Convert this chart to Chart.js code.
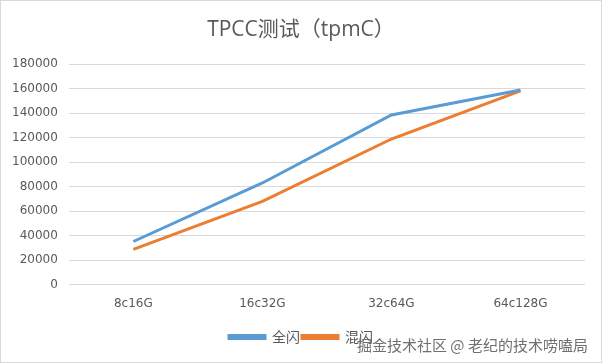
<!DOCTYPE html>
<html><head><meta charset="utf-8">
<script src="https://cdn.jsdelivr.net/npm/chart.js@4"></script>
<style>
html,body{margin:0;padding:0;background:#fff;}
#wrap{position:relative;width:600px;height:361px;border:1px solid #d9d9d9;}
#wm{position:absolute;left:356px;top:333px;font:15px "Noto Sans CJK SC";color:#707070;white-space:nowrap;}
</style></head>
<body>
<div id="wrap"><canvas id="c" width="600" height="361"></canvas><div id="wm">掘金技术社区 @ 老纪的技术唠嗑局</div></div>
<script>
const categories = ["8c16G","16c32G","32c64G","64c128G"];
const seriesNames = ["全闪","混闪"];
const allFlash = [35200, 83000, 138500, 159000];
const hybridFlash = [28700, 68000, 118900, 158200];
const yTicks = [0,20000,40000,60000,80000,100000,120000,140000,160000,180000];

const shiftBoxes = {
  id: 'shiftBoxes',
  beforeDraw(chart) {
    [chart.legend, chart.titleBlock].forEach(b => {
      if (b && !b._shifted) { b.left += 8; b.right += 8; b._shifted = true; }
    });
  }
};

new Chart(document.getElementById('c'), {
  type: 'line',
  data: {
    labels: categories,
    datasets: [
      {label: seriesNames[0], data: allFlash, borderColor: '#5b9bd5', backgroundColor: '#5b9bd5', borderWidth: 3, pointRadius: 0, tension: 0},
      {label: seriesNames[1], data: hybridFlash, borderColor: '#ed7d31', backgroundColor: '#ed7d31', borderWidth: 3, pointRadius: 0, tension: 0}
    ]
  },
  plugins: [shiftBoxes],
  options: {
    responsive: false,
    animation: false,
    layout: {padding: {left: 0, right: 16, top: 8, bottom: 8}},
    plugins: {
      title: {display: true, text: 'TPCC测试（tpmC）', color: '#595959', font: {size: 21, family: '"Open Sans", "Noto Sans CJK SC"', weight: 'normal'}, padding: {top: 8, bottom: 22}},
      legend: {position: 'bottom', labels: {boxWidth: 36, boxHeight: 3, color: '#595959', font: {size: 14, family: '"Noto Sans CJK SC"'}, padding: 2}},
      tooltip: {enabled: false}
    },
    scales: {
      x: {
        offset: true,
        afterFit: (s) => { s.height += 13; },
        grid: {display: false},
        border: {display: false},
        ticks: {color: '#595959', font: {size: 12, family: '"DejaVu Sans"'}, padding: 4, maxRotation: 0}
      },
      y: {
        min: 0, max: 180000,
        afterBuildTicks: (s) => { s.ticks = yTicks.map(v => ({value: v})); },
        grid: {color: '#d9d9d9', drawTicks: false},
        border: {display: false},
        ticks: {color: '#595959', font: {size: 12, family: '"DejaVu Sans"'}, padding: 11, callback: v => String(v)}
      }
    }
  }
});
</script>
</body></html>
